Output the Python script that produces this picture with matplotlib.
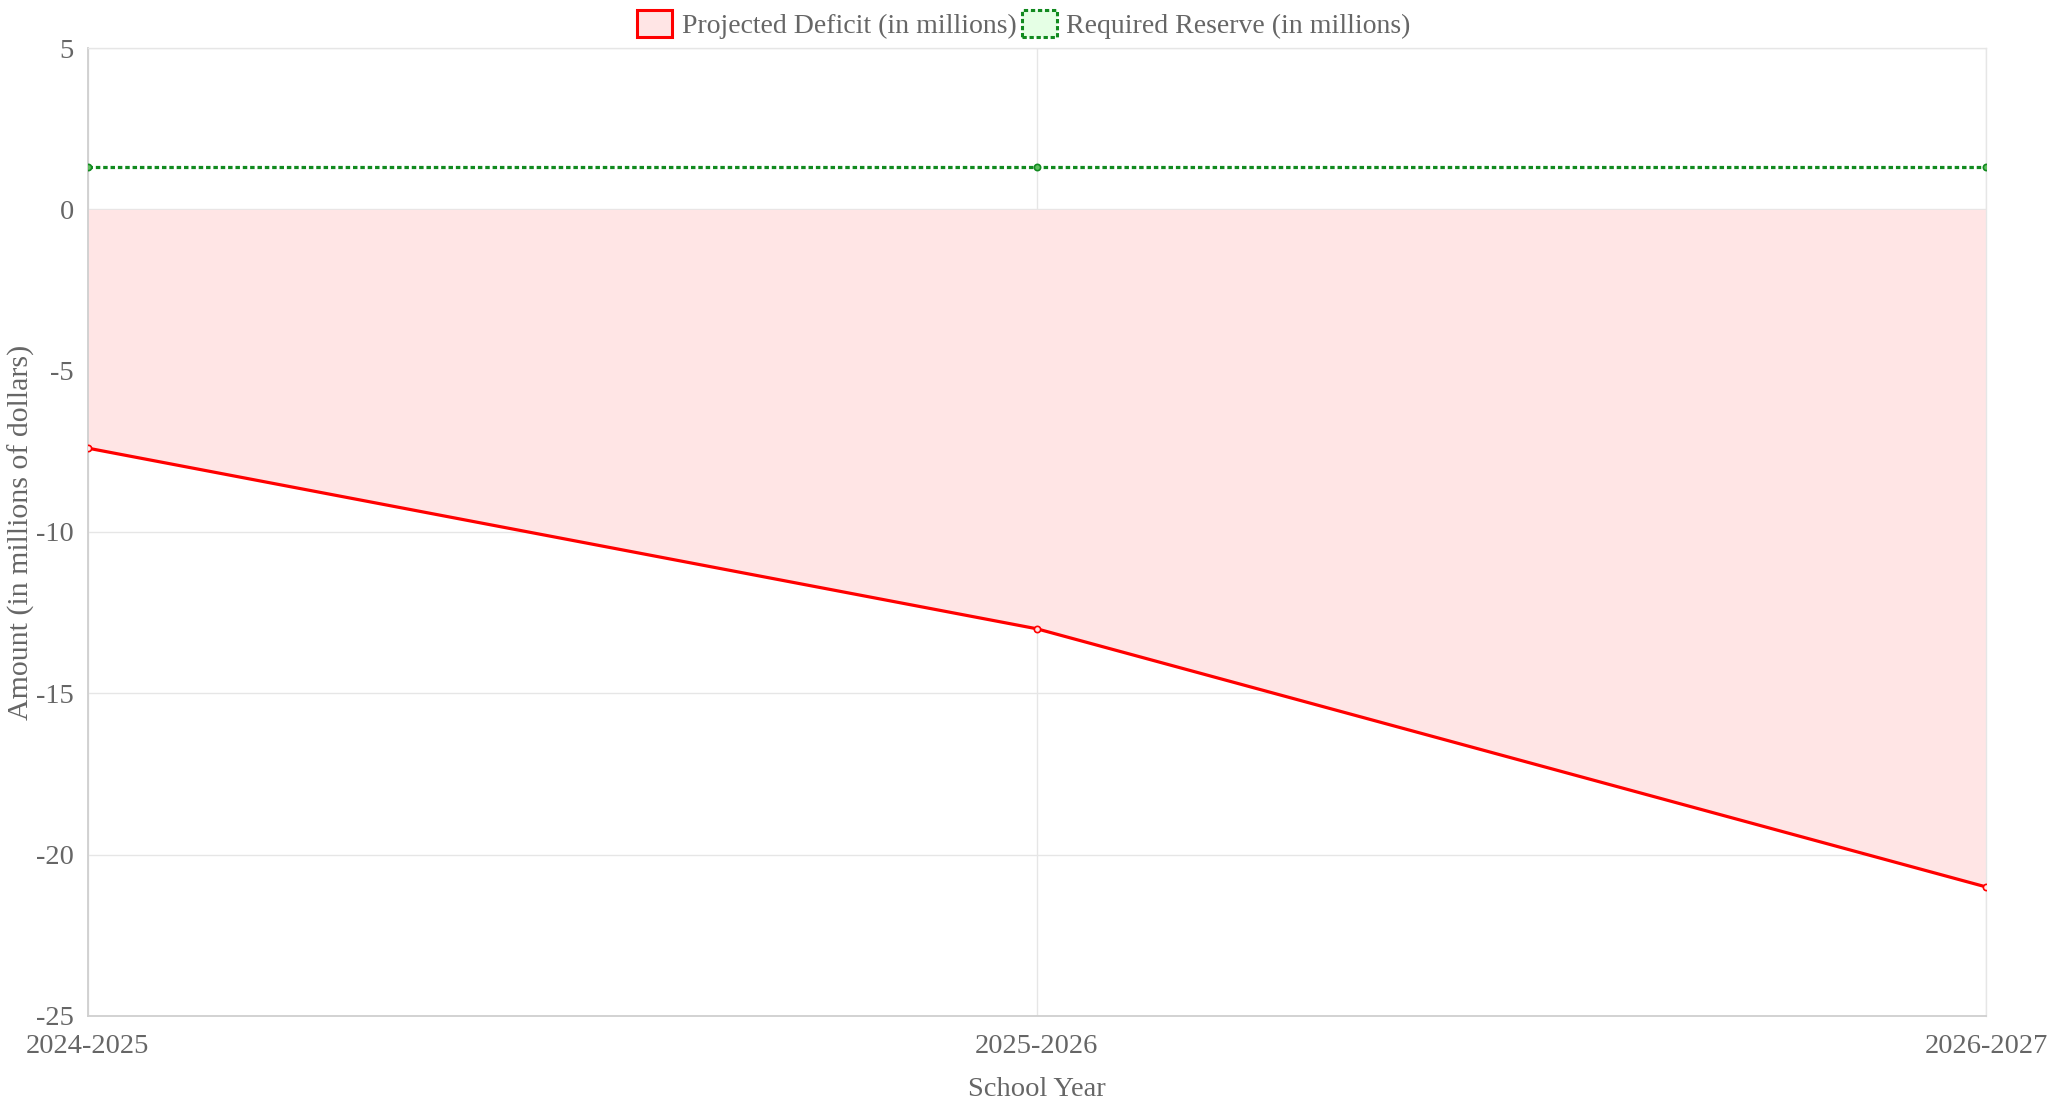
import matplotlib
matplotlib.use("Agg")
import matplotlib.pyplot as plt
from matplotlib.patches import Rectangle

years = ["2024-2025", "2025-2026", "2026-2027"]
deficit = [-7.4, -13.0, -21.0]
reserve = [1.3, 1.3, 1.3]
y_ticks = [5, 0, -5, -10, -15, -20, -25]

plt.rcParams['font.family'] = ['Liberation Serif', 'DejaVu Serif']
text_col = '#666666'
grid_col = '#e6e6e6'

fig = plt.figure(figsize=(20.48, 11.09), dpi=100)
ax = fig.add_axes([0.0428, 0.0839, 0.9269, 0.8728])

x = list(range(len(years)))
ax.fill_between(x, deficit, 0, color='#ffe5e5', linewidth=0, zorder=1)
ax.plot(x, deficit, color='#ff0000', linewidth=2.3, zorder=3,
        marker='o', markersize=4.5, markerfacecolor='#ffe5e5',
        markeredgecolor='#ff0000', markeredgewidth=1.2)
ax.plot(x, reserve, color='#118a1f', linewidth=2.3, linestyle=(0, (1.4, 0.9)),
        zorder=3, marker='o', markersize=4.5, markerfacecolor='#5fbf5f',
        markeredgecolor='#118a1f', markeredgewidth=1.2)

ax.set_xlim(0, 2)
ax.set_ylim(-25, 5)
ax.set_xticks(x)
ax.set_xticklabels(years)
ax.set_yticks(y_ticks)
ax.set_yticklabels([str(v) for v in y_ticks])
ax.tick_params(length=0, labelsize=20.5, labelcolor=text_col)
ax.tick_params(axis='y', pad=10)
ax.tick_params(axis='x', pad=13)

ax.grid(True, color=grid_col, linewidth=1.0, zorder=0)
ax.set_axisbelow(True)
for side in ['top', 'right']:
    ax.spines[side].set_color(grid_col)
    ax.spines[side].set_linewidth(1.0)
for side in ['left', 'bottom']:
    ax.spines[side].set_color('#cfcfcf')
    ax.spines[side].set_linewidth(1.3)

ax.set_xlabel("School Year", fontsize=20.5, color=text_col)
ax.set_ylabel("Amount (in millions of dollars)", fontsize=21.5, color=text_col)
ax.xaxis.set_label_coords(0.5, -0.063)
ax.yaxis.set_label_coords(-0.0275, 0.5)

h1 = Rectangle((0, 0), 1, 1, facecolor='#ffe5e5', edgecolor='#ff0000', linewidth=2.2)
h2 = Rectangle((0, 0), 1, 1, facecolor='#e5ffe5', edgecolor='#118a1f', linewidth=2.2,
               linestyle=(0, (1.4, 0.9)))
fig.legend([h1, h2], ["Projected Deficit (in millions)", "Required Reserve (in millions)"],
           loc='center', bbox_to_anchor=(0.5, 0.978), ncol=2, frameon=False,
           fontsize=20, labelcolor=text_col, handlelength=1.25, handleheight=1.1,
           handletextpad=0.35, columnspacing=0.2, borderpad=0)

fig.savefig("out.png", dpi=100, facecolor='white')
